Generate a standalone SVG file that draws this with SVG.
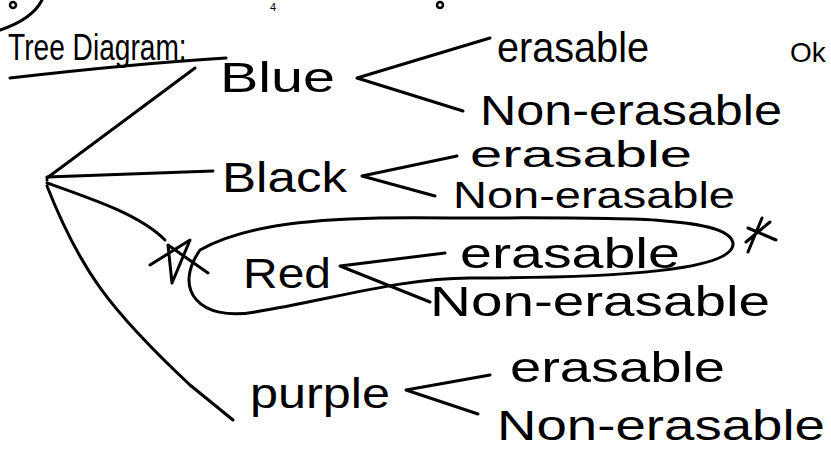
<svg xmlns="http://www.w3.org/2000/svg" width="831" height="449" viewBox="0 0 831 449">
<style>
.ink{fill:none;stroke:#000;stroke-width:3;stroke-linecap:round;stroke-linejoin:round}
.thin{fill:none;stroke:#000;stroke-width:2.5;stroke-linecap:round;stroke-linejoin:round}
text{font-family:"Liberation Sans","DejaVu Sans",sans-serif;fill:#000}
.lbl{font-size:42px}
.sm{font-size:36px}
</style>
<rect width="831" height="449" fill="#fff"/>
<g id="page-marks">
<circle cx="13" cy="5" r="3" class="thin"/>
<circle cx="440" cy="5" r="3" class="thin"/>
<text x="270" y="11" font-size="11">4</text>
<path class="ink" d="M0 30 C18 24 35 14 42 0"/>
</g>
<g id="title">
<text font-size="37" transform="translate(8,60) scale(0.76,1)">Tree Diagram:</text>
<path class="ink" d="M10 78 C80 70 160 62 226 58"/>
</g>
<g id="connectors">
<path class="ink" d="M47 178 L195 68"/>
<path class="ink" d="M47 177 L213 171"/>
<path class="ink" d="M47 183 C95 200 140 215 165 240"/>
<path class="ink" d="M47 186 C80 270 110 310 190 385 L233 420"/>
<path class="ink" d="M490 38 L357 78 L463 111"/>
<path class="ink" d="M457 156 L362 176 L435 196"/>
<path class="ink" d="M445 253 L340 266 L430 302"/>
<path class="ink" d="M490 375 L406 390 L478 414"/>
</g>
<g id="root"><circle cx="47" cy="180" r="1.5" fill="#000"/></g>
<g id="node-blue"><text class="lbl" x="220" y="92" textLength="115" lengthAdjust="spacingAndGlyphs">Blue</text></g>
<g id="node-black"><text class="lbl" x="222" y="192" textLength="125" lengthAdjust="spacingAndGlyphs">Black</text></g>
<g id="node-red"><text class="lbl" x="243" y="288" textLength="88" lengthAdjust="spacingAndGlyphs">Red</text></g>
<g id="node-purple"><text class="lbl" x="250" y="408" textLength="140" lengthAdjust="spacingAndGlyphs">purple</text></g>
<g id="blue-erasable"><text class="lbl" x="497" y="62" textLength="152" lengthAdjust="spacingAndGlyphs">erasable</text></g>
<g id="blue-non"><text class="lbl" x="480" y="125" textLength="302" lengthAdjust="spacingAndGlyphs">Non-erasable</text></g>
<g id="black-erasable"><text class="sm" x="470" y="167" textLength="222" lengthAdjust="spacingAndGlyphs">erasable</text></g>
<g id="black-non"><text class="sm" x="453" y="208" textLength="282" lengthAdjust="spacingAndGlyphs">Non-erasable</text></g>
<g id="red-erasable"><text class="lbl" x="460" y="268" textLength="220" lengthAdjust="spacingAndGlyphs">erasable</text></g>
<g id="red-non"><text class="lbl" x="430" y="316" textLength="340" lengthAdjust="spacingAndGlyphs">Non-erasable</text></g>
<g id="purple-erasable"><text class="lbl" x="510" y="382" textLength="215" lengthAdjust="spacingAndGlyphs">erasable</text></g>
<g id="purple-non"><text class="lbl" x="497" y="440" textLength="328" lengthAdjust="spacingAndGlyphs">Non-erasable</text></g>
<g id="note-ok"><text x="790" y="62" font-size="28">Ok</text></g>
<g id="highlight">
<path class="ink" d="M200 250 C250 222 330 216 450 218 C600 218 728 214 733 243 C736 270 620 278 470 278 C400 278 330 300 255 312 C200 322 172 290 200 250"/>
<path class="ink" d="M150 265 L190 240 L172 283 L168 245 L208 273"/>
<path class="ink" d="M748 252 L762 218 M748 228 L776 240 M746 242 L770 222"/>
</g>
</svg>
